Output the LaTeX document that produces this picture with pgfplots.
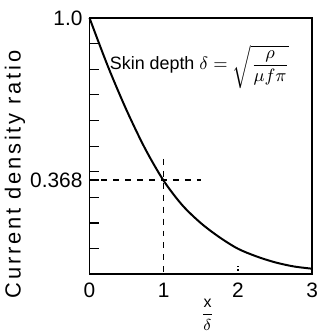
\documentclass[border=0pt]{standalone}
\usepackage{fontspec}
\setmainfont{Liberation Sans}
\usepackage{amsmath}
\usepackage{pgfplots}
\pgfplotsset{compat=1.18}
\begin{document}
\begin{tikzpicture}
\begin{axis}[
  name=ax,
  scale only axis,
  width=112pt, height=129pt,
  xmin=0, xmax=3, ymin=0, ymax=1,
  axis line style={line width=0.9pt},
  xtick={0,1,2,3},
  xticklabels={0,1,2,3},
  x tick style={draw=none},
  ytick={0.368,1},
  yticklabels={0.368,1.0},
  extra y ticks={0.1,0.2,0.3,0.4,0.5,0.6,0.7,0.8,0.9},
  extra y tick labels={},
  major tick length=5pt,
  y tick style={line width=0.6pt, black},
  ytick pos=left, xtick pos=bottom,
  tick align=inside,
  /pgf/number format/assume math mode=true,
  ticklabel style={font=\fontsize{10.5}{12}\selectfont},
  xticklabel style={yshift=-1pt},
  ylabel={Current density ratio},
  ylabel style={font=\fontsize{11}{12}\selectfont\addfontfeature{LetterSpace=13},
    at={(axis description cs:-0.335,0.39)}, anchor=center},
  xlabel={$\dfrac{\text{x}}{\delta}$},
  xlabel style={font=\fontsize{8}{10}\selectfont, at={(axis description cs:0.53,0)},
    anchor=north, inner sep=0pt, yshift=-12pt},
  clip=false,
]
\addplot[black, line width=1pt, smooth] coordinates {
(0,1.0) (0.25,0.81) (0.5,0.64) (0.75,0.49) (1.0,0.365) (1.25,0.27)
(1.5,0.20) (1.75,0.145) (2.0,0.10) (2.25,0.07) (2.5,0.047) (2.75,0.031) (3.0,0.022)};
\addplot[black, dashed, line width=0.8pt] coordinates {(0,0.368) (1.5,0.368)};
\addplot[black, dashed, line width=0.8pt] coordinates {(1,0.45) (1,0)};
\addplot[black, densely dotted, line width=0.8pt] coordinates {(2,0) (2,0.04)};
\node[anchor=west, font=\fontsize{9}{11}\selectfont, inner sep=0pt] at (axis cs:0.27,0.81)
  {Skin depth $\delta = \sqrt{\dfrac{\rho}{\mu f \pi}}$};
\end{axis}
\pgfresetboundingbox
\path ([shift={(-45pt,-30.5pt)}]ax.south west) rectangle ([shift={(4.5pt,9pt)}]ax.north east);
\end{tikzpicture}
\end{document}
